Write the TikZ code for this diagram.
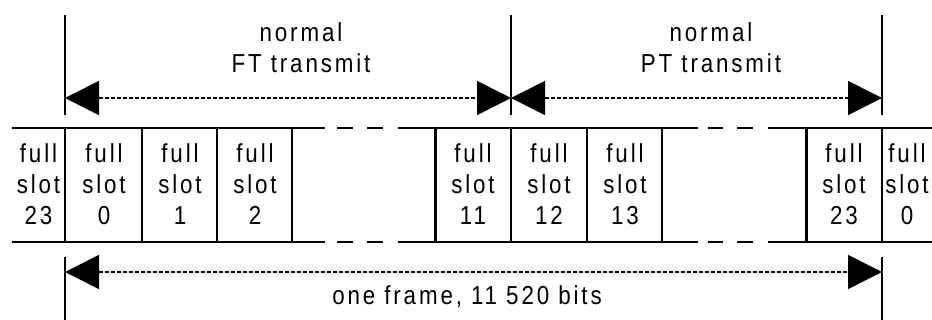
\documentclass[tikz,border=0pt]{standalone}
\usepackage{fontspec}
\setmainfont{Liberation Sans}[LetterSpace=11,FakeStretch=0.86]
\usetikzlibrary{arrows.meta}
\begin{document}
\begin{tikzpicture}[x=1pt,y=-1pt,
  lbl/.style={font=\fontsize{26}{31}\selectfont, align=center, inner sep=0pt},
  frameline/.style={line width=2pt},
  slotline/.style={line width=2.4pt},
  thickslot/.style={line width=3pt},
  marker/.style={line width=1.6pt},
  dimarrow/.style={line width=1.5pt, dash pattern=on 4pt off 2pt,
    {Triangle[length=34pt,width=34pt]}-{Triangle[length=34pt,width=34pt]}}]
\useasboundingbox (0,0) rectangle (932,320);
% frame lines (top and bottom), with gaps
\foreach \y in {128,242}{
  \draw[frameline] (12,\y) -- (325,\y);
  \draw[frameline] (337,\y) -- (353,\y);
  \draw[frameline] (367,\y) -- (383,\y);
  \draw[frameline] (398,\y) -- (698,\y);
  \draw[frameline] (708,\y) -- (723,\y);
  \draw[frameline] (737,\y) -- (753,\y);
  \draw[frameline] (768,\y) -- (932,\y);
}
% slot boundaries
\foreach \x in {65,142,217,292,511,587,662,882}{
  \draw[slotline] (\x,128) -- (\x,242);
}
\foreach \x in {435,806}{
  \draw[thickslot] (\x,128) -- (\x,242);
}
% slot labels
\node[lbl] (s23a) at (38.5,184) {full\\slot\\23};
\node[lbl] (s0)  at (104,184) {full\\slot\\0};
\node[lbl] (s1)  at (180,184) {full\\slot\\1};
\node[lbl] (s2)  at (255,184) {full\\slot\\2};
\node[lbl] (s11) at (473,184) {full\\slot\\11};
\node[lbl] (s12) at (549,184) {full\\slot\\12};
\node[lbl] (s13) at (625,184) {full\\slot\\13};
\node[lbl] (s23b) at (844,184) {full\\slot\\23};
\node[lbl] (s0b) at (907,184) {full\\slot\\0};
% markers
\coordinate (m1t) at (65,15);  \coordinate (m1b) at (65,115);
\coordinate (m2t) at (511,15); \coordinate (m2b) at (511,115);
\coordinate (m3t) at (882,15); \coordinate (m3b) at (882,115);
\coordinate (m1u) at (65,257); \coordinate (m1d) at (65,320);
\coordinate (m3u) at (882,257); \coordinate (m3d) at (882,320);
\draw[marker] (m1t) -- (m1b);
\draw[marker] (m2t) -- (m2b);
\draw[marker] (m3t) -- (m3b);
\draw[marker] (m1u) -- (m1d);
\draw[marker] (m3u) -- (m3d);
% arrows
\coordinate (a1) at (65,98);  \coordinate (a2) at (511,98);  \coordinate (a3) at (882,98);
\coordinate (b1) at (65,272); \coordinate (b2) at (882,272);
\draw[dimarrow] (a1) -- (a2);
\draw[dimarrow] (a2) -- (a3);
\draw[dimarrow] (b1) -- (b2);
% labels
\node[lbl] (ft) at (301,48) {normal\\FT transmit};
\node[lbl] (pt) at (711,48) {normal\\PT transmit};
\node[lbl] (fr) at (467,297) {one frame, 11 520 bits};
\end{tikzpicture}
\end{document}
